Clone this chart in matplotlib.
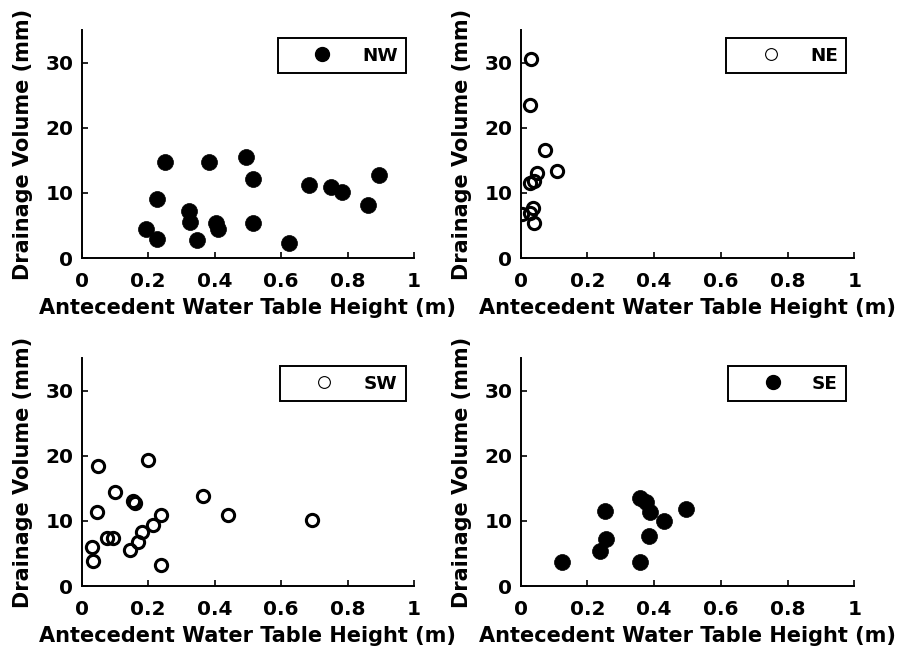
import matplotlib
matplotlib.use('Agg')
import matplotlib.pyplot as plt
from matplotlib.lines import Line2D

# antecedent water table height (m) vs drainage volume (mm), per quadrant
nw_x = [0.192, 0.227, 0.227, 0.252, 0.323, 0.325, 0.347, 0.382, 0.403, 0.411,
        0.494, 0.515, 0.515, 0.625, 0.683, 0.750, 0.783, 0.860, 0.895]
nw_y = [4.5, 3.0, 9.1, 14.7, 7.2, 5.5, 2.8, 14.7, 5.4, 4.4,
        15.5, 12.1, 5.4, 2.3, 11.2, 10.9, 10.1, 8.1, 12.7]

ne_x = [0.030, 0.028, 0.074, 0.108, 0.049, 0.028, 0.040, 0.037, 0.005, 0.028, 0.041]
ne_y = [30.5, 23.5, 16.6, 13.4, 13.1, 11.5, 11.9, 7.7, 6.7, 6.9, 5.4]

sw_x = [0.048, 0.200, 0.100, 0.045, 0.155, 0.160, 0.364, 0.441, 0.694, 0.240,
        0.213, 0.180, 0.170, 0.145, 0.077, 0.095, 0.030, 0.035, 0.240]
sw_y = [18.4, 19.3, 14.5, 11.4, 13.0, 12.7, 13.8, 10.9, 10.2, 10.9,
        9.4, 8.3, 6.8, 5.5, 7.4, 7.4, 6.0, 3.9, 3.3]

se_x = [0.123, 0.239, 0.257, 0.253, 0.358, 0.358, 0.375, 0.388, 0.386, 0.429, 0.497]
se_y = [3.7, 5.4, 7.2, 11.5, 3.7, 13.5, 12.9, 11.3, 7.7, 10.0, 11.9]

panels = [('NW', nw_x, nw_y, True), ('NE', ne_x, ne_y, False),
          ('SW', sw_x, sw_y, False), ('SE', se_x, se_y, True)]

xticks = [0, 0.2, 0.4, 0.6, 0.8, 1]
xticklabels = ['0', '0.2', '0.4', '0.6', '0.8', '1']
yticks = [0, 10, 20, 30]

plt.rcParams.update({
    'font.family': 'DejaVu Sans',
    'font.weight': 'bold',
    'font.size': 15,
    'axes.labelweight': 'bold',
    'xtick.labelsize': 14.5,
    'ytick.labelsize': 14.5,
})

fig = plt.figure(figsize=(9.03, 6.55), dpi=100)
positions = [
    [0.0905, 0.606, 0.368, 0.348],
    [0.5766, 0.606, 0.3695, 0.348],
    [0.0905, 0.1053, 0.368, 0.348],
    [0.5766, 0.1053, 0.3695, 0.348],
]

for pos, (name, xs, ys, filled) in zip(positions, panels):
    ax = fig.add_axes(pos)
    if filled:
        ax.plot(xs, ys, 'o', ms=11.5, color='black', mec='black', mew=0.5)
        h = Line2D([], [], ls='none', marker='o', ms=10, color='black')
    else:
        ax.plot(xs, ys, 'o', ms=8.8, mfc='none', mec='black', mew=2.2)
        h = Line2D([], [], ls='none', marker='o', ms=8.5, mfc='none',
                   mec='black', mew=0.8)
    ax.set_xlim(0, 1)
    ax.set_ylim(0, 35)
    ax.set_xticks(xticks)
    ax.set_xticklabels(xticklabels)
    ax.set_yticks(yticks)
    for s in ['top', 'right']:
        ax.spines[s].set_visible(False)
    for s in ['left', 'bottom']:
        ax.spines[s].set_linewidth(1.4)
    ax.tick_params(direction='in', length=4, width=1.2)
    ax.tick_params(axis='x', pad=10)
    ax.tick_params(axis='y', pad=6)
    ax.set_xlabel('Antecedent Water Table Height (m)', labelpad=5)
    ax.set_ylabel('Drainage Volume (mm)', labelpad=9)
    leg = ax.legend([h], [name], loc='upper right', bbox_to_anchor=(1.0, 1.0),
                    fontsize=13.2, handlelength=4.0, handletextpad=0.15,
                    borderpad=0.45, borderaxespad=0.45, fancybox=False,
                    framealpha=1, edgecolor='black')
    leg.get_frame().set_linewidth(1.4)

fig.savefig('out.png', dpi=100)
